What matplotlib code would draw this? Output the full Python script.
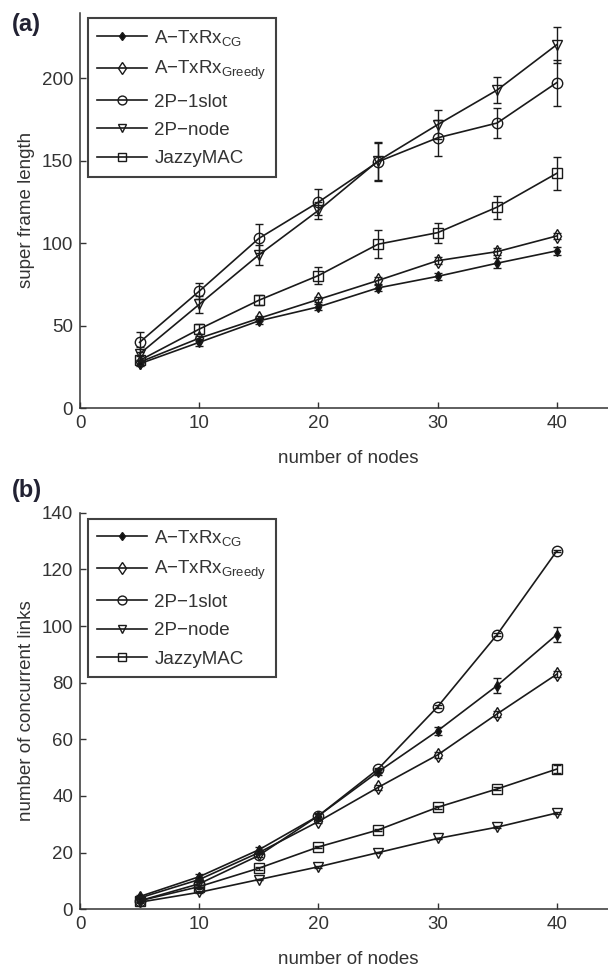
import matplotlib
matplotlib.use("Agg")
import matplotlib.pyplot as plt
from matplotlib.lines import Line2D

plt.rcParams['font.family'] = ['Liberation Sans', 'DejaVu Sans']
plt.rcParams['mathtext.fontset'] = 'custom'
plt.rcParams['mathtext.rm'] = 'Liberation Sans'
plt.rcParams['mathtext.it'] = 'Liberation Sans'

nodes = [5, 10, 15, 20, 25, 30, 35, 40]
labels = ['A\u2212TxRx$_{\\mathrm{CG}}$', 'A\u2212TxRx$_{\\mathrm{Greedy}}$',
          '2P\u22121slot', '2P\u2212node', 'JazzyMAC']

# (a) super frame length
sfl_cg = [27, 40, 53, 61.5, 73, 80, 88, 95.5]
sfl_greedy = [28, 42.5, 54.5, 66, 77.5, 89.5, 95, 104.5]
sfl_1slot = [40, 71, 103, 125, 149.5, 164, 173, 197.5]
sfl_node = [33, 63, 93, 120, 150, 172, 193, 220.5]
sfl_jazzy = [29, 48, 65.5, 80.5, 99.5, 106.5, 122, 142.5]
sfl_cg_err = [1.5, 2, 2, 2, 2, 2, 3, 2.5]
sfl_greedy_err = [1.5, 1.5, 1.5, 1.5, 2, 2, 2, 2]
sfl_1slot_err = [6, 5, 9, 8, 11.5, 11, 9, 14]
sfl_node_err = [4, 5, 6, 5, 11.5, 9, 8, 11]
sfl_jazzy_err = [3, 3, 3, 5, 8.5, 6, 7, 10]

# (b) number of concurrent links
ncl_cg = [4.5, 11.5, 21, 33, 48.5, 63, 79, 97]
ncl_greedy = [4, 10.5, 20, 31, 43, 54.5, 69, 83]
ncl_1slot = [3, 9, 19, 33, 49.5, 71.5, 97, 126.5]
ncl_node = [2.5, 6, 10.5, 15, 20, 25, 29, 34]
ncl_jazzy = [3, 8, 14.5, 22, 28, 36, 42.5, 49.5]
ncl_cg_err = [0.5, 1, 1, 1, 1, 1.5, 2.7, 2.8]
ncl_greedy_err = [0.5, 0.5, 0.5, 0.5, 1, 1, 1, 1]
ncl_1slot_err = [0.5, 0.5, 0.5, 0.5, 0.5, 0.5, 0.5, 0.5]
ncl_node_err = [0.3, 0.3, 0.3, 0.3, 0.3, 0.3, 0.3, 0.3]
ncl_jazzy_err = [0.5, 0.5, 0.5, 0.5, 0.5, 0.5, 0.5, 1.5]

yticks_a = [0, 50, 100, 150, 200]
yticks_b = [0, 20, 40, 60, 80, 100, 120, 140]
xticks = [0, 10, 20, 30, 40]

styles = [
    dict(marker='d', mfc='#111111', ms=5),
    dict(marker='d', mfc='none', ms=7.5),
    dict(marker='o', mfc='none', ms=7.5),
    dict(marker='v', mfc='none', ms=7.5),
    dict(marker='s', mfc='none', ms=7),
]

FS = 13.5
LC = '#1a1a1a'
W, H = 608, 968
fig = plt.figure(figsize=(W / 100, H / 100), dpi=100)

def px(l, b, w, h):
    return [l / W, (H - b) / H, w / W, h / H]

ax1 = fig.add_axes(px(80, 408.3, 536.4, 395.8))
ax2 = fig.add_axes(px(80, 909.3, 536.4, 396.6))

def draw(ax, series, errs, ylim, yticks, ylabel):
    for y, e, st in zip(series, errs, styles):
        ax.errorbar(nodes, y, yerr=e, color=LC, lw=1.2, capsize=2.6,
                    elinewidth=1.0, capthick=1.0, mec=LC, mew=1.0, **st)
    ax.set_xlim(0, 45)
    ax.set_ylim(*ylim)
    ax.set_xticks(xticks)
    ax.set_yticks(yticks)
    for s in ['top', 'right']:
        ax.spines[s].set_visible(False)
    for s in ['left', 'bottom']:
        ax.spines[s].set_linewidth(1.1)
        ax.spines[s].set_color('#333333')
    ax.tick_params(direction='in', length=4, width=1, labelsize=FS,
                   colors='#333333', labelcolor='#333333', pad=5)
    ax.set_xlabel('number of nodes', fontsize=FS, color='#333333', labelpad=13)
    ax.set_ylabel(ylabel, fontsize=FS, color='#333333', labelpad=5)
    handles = [Line2D([], [], color=LC, lw=1.2, mec=LC, mew=1.0,
                      **{**st, 'ms': st['ms'] * 0.85}) for st in styles]
    leg = ax.legend(handles, labels, loc='upper left',
                    bbox_to_anchor=(0.0149, 0.985), borderaxespad=0,
                    fontsize=FS, frameon=True, fancybox=False,
                    edgecolor='#111111', handlelength=2.67, handletextpad=0.37,
                    borderpad=0.5, labelspacing=0.6)
    leg.get_frame().set_linewidth(1.5)
    for t in leg.get_texts():
        t.set_color('#333333')

draw(ax1, [sfl_cg, sfl_greedy, sfl_1slot, sfl_node, sfl_jazzy],
     [sfl_cg_err, sfl_greedy_err, sfl_1slot_err, sfl_node_err, sfl_jazzy_err],
     (0, 240), yticks_a, 'super frame length')
draw(ax2, [ncl_cg, ncl_greedy, ncl_1slot, ncl_node, ncl_jazzy],
     [ncl_cg_err, ncl_greedy_err, ncl_1slot_err, ncl_node_err, ncl_jazzy_err],
     (0, 140), yticks_b, 'number of concurrent links')

fig.text(12 / W, 1 - 25 / H, '(a)', fontsize=17, fontweight='bold', va='center', ha='left', color='#222233')
fig.text(12 / W, 1 - 490 / H, '(b)', fontsize=17, fontweight='bold', va='center', ha='left', color='#222233')

fig.savefig('out.png', dpi=100)
